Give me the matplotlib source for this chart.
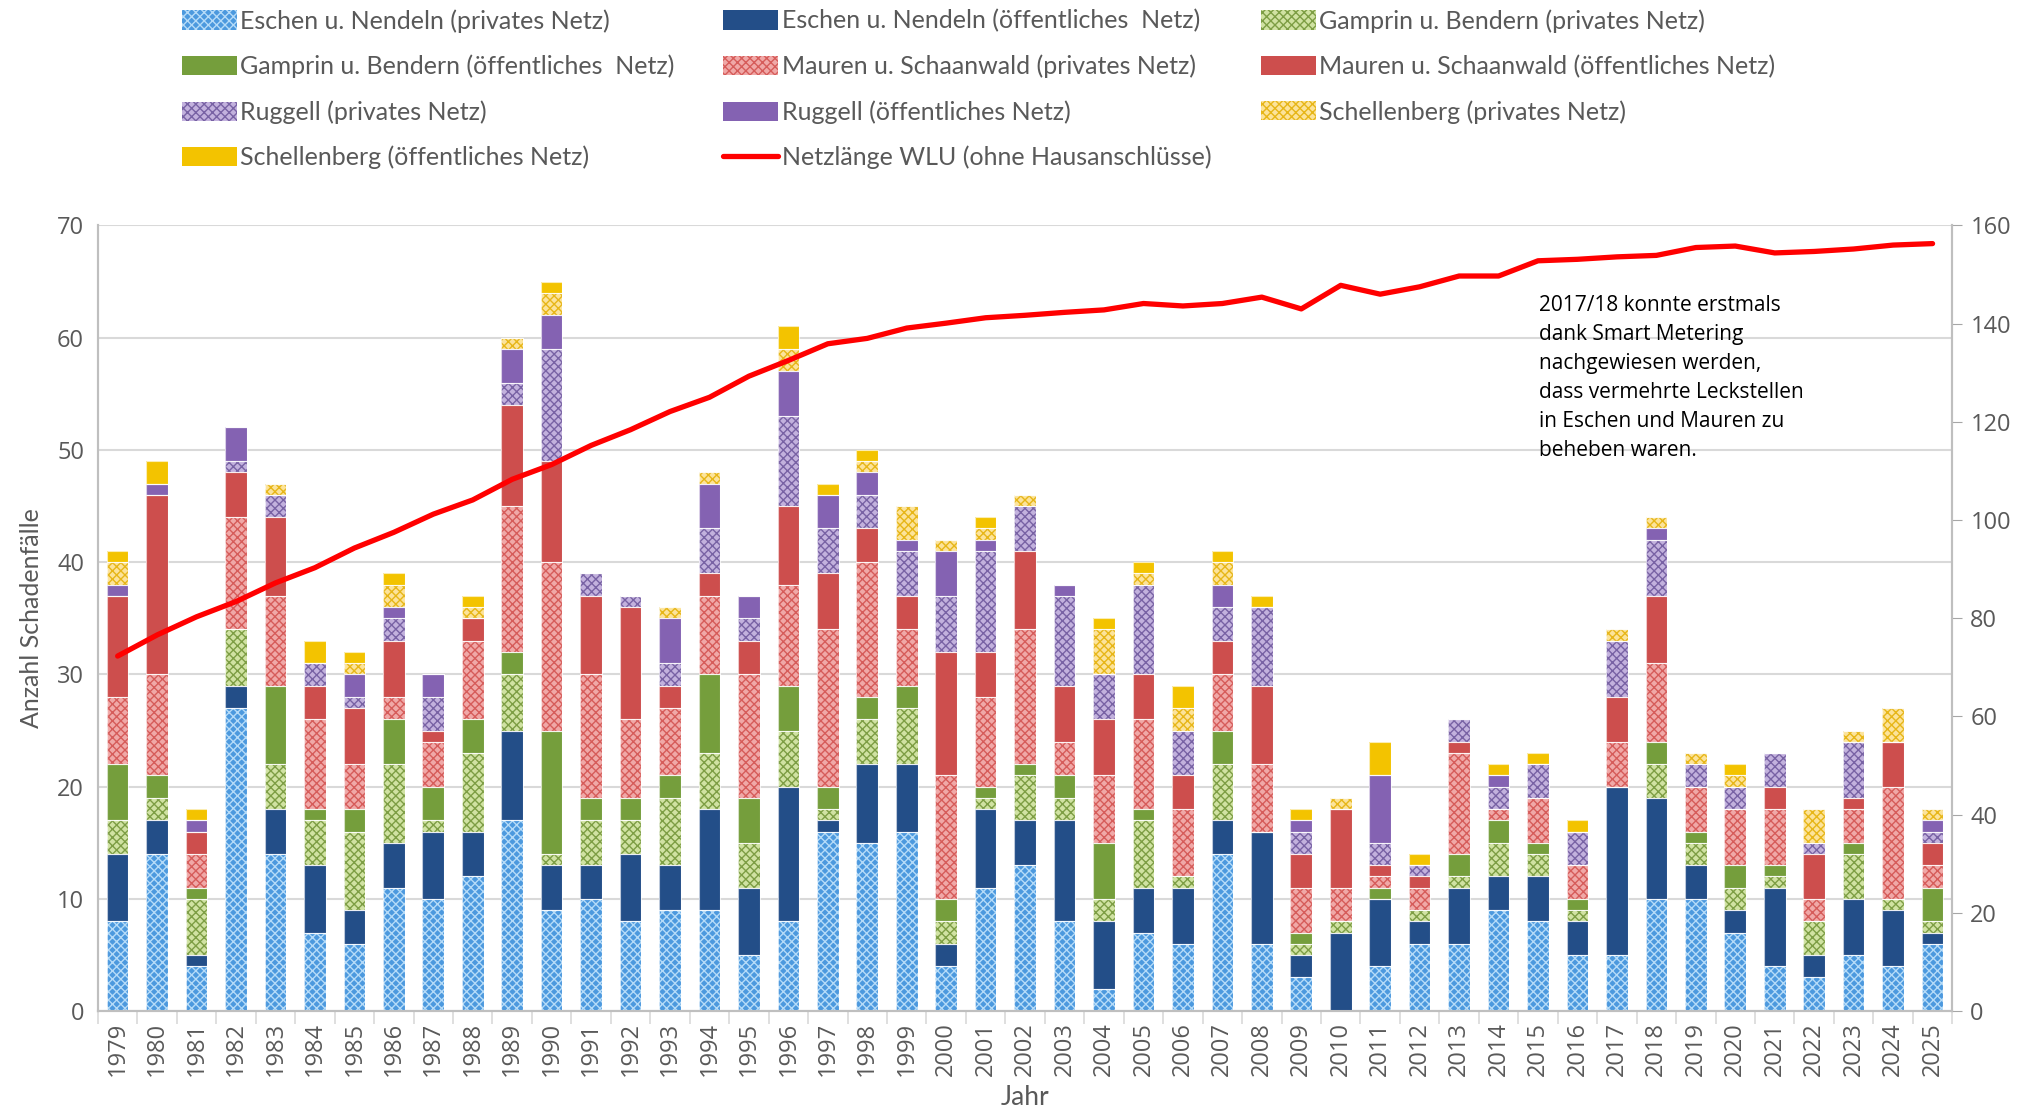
import matplotlib
matplotlib.use("Agg")
import matplotlib.pyplot as plt
import numpy as np

years = [str(y) for y in range(1979, 2026)]

eschen_priv = [8,14,4,27,14,7,6,11,10,12, 17,9,10,8,9,9,5,8,16,15, 16,4,11,13,8,2,7,6,14,6, 3,0,4,6,6,9,8,5,5,10, 10,7,4,3,5,4,6]
eschen_oeff = [6,3,1,2,4,6,3,4,6,4, 8,4,3,6,4,9,6,12,1,7, 6,2,7,4,9,6,4,5,3,10, 2,7,6,2,5,3,4,3,15,9, 3,2,7,2,5,5,1]
gamprin_priv = [3,2,5,5,4,4,7,7,1,7, 5,1,4,3,6,5,4,5,1,4, 5,2,1,4,2,2,6,1,5,0, 1,1,0,1,1,3,2,1,0,3, 2,2,1,3,4,1,1]
gamprin_oeff = [5,2,1,0,7,1,2,4,3,3, 2,11,2,2,2,7,4,4,2,2, 2,2,1,1,2,5,1,0,3,0, 1,0,1,0,2,2,1,1,0,2, 1,2,1,0,1,0,3]
mauren_priv = [6,9,3,10,8,8,4,2,4,7, 13,15,11,7,6,7,11,9,14,12, 5,11,8,12,3,6,8,6,5,6, 4,3,1,2,9,1,4,3,4,7, 4,5,5,2,3,10,2]
mauren_oeff = [9,16,2,4,7,3,5,5,1,2, 9,9,7,10,2,2,3,7,5,3, 3,11,4,7,5,5,4,3,3,7, 3,7,1,1,1,0,0,0,4,6, 0,0,2,4,1,4,2]
ruggell_priv = [0,0,0,1,2,2,1,2,3,0, 2,10,2,1,2,4,2,8,4,3, 4,5,9,4,8,4,8,4,3,7, 2,0,2,1,2,2,3,3,5,5, 2,2,3,1,5,0,1]
ruggell_oeff = [1,1,1,3,0,0,2,1,2,0, 3,3,0,0,4,4,2,4,3,2, 1,4,1,0,1,0,0,0,2,0, 1,0,6,0,0,1,0,0,0,1, 0,0,0,0,0,0,1]
schell_priv = [2,0,0,0,1,0,1,2,0,1, 1,2,0,0,1,1,0,2,0,1, 3,1,1,1,0,4,1,2,2,0, 0,1,0,0,0,0,0,0,1,1, 1,1,0,3,1,3,1]
schell_oeff = [1,2,1,0,0,2,1,1,0,1, 0,1,0,0,0,0,0,2,1,1, 0,0,1,0,0,1,1,2,1,1, 1,0,3,1,0,1,1,1,0,0, 0,1,0,0,0,0,0]
netzlaenge = [72.3,76.6,80.3,83.4,87.2,90.3,94.3,97.5,101.2,104.1,
              108.3,111.3,115.2,118.4,122.1,125.0,129.3,132.5,135.9,137.0,
              139.1,140.1,141.2,141.7,142.3,142.8,144.1,143.6,144.1,145.4,
              143.0,147.8,146.0,147.5,149.7,149.7,152.8,153.1,153.6,153.9,
              155.5,155.8,154.4,154.7,155.2,156.0,156.3]

labels = [
    "Eschen u. Nendeln (privates Netz)", "Eschen u. Nendeln (öffentliches  Netz)",
    "Gamprin u. Bendern (privates Netz)", "Gamprin u. Bendern (öffentliches  Netz)",
    "Mauren u. Schaanwald (privates Netz)", "Mauren u. Schaanwald (öffentliches Netz)",
    "Ruggell (privates Netz)", "Ruggell (öffentliches Netz)",
    "Schellenberg (privates Netz)", "Schellenberg (öffentliches Netz)",
]
line_label = "Netzlänge WLU (ohne Hausanschlüsse)"
annotation = ("2017/18 konnte erstmals\ndank Smart Metering\nnachgewiesen werden,\n"
              "dass vermehrte Leckstellen\nin Eschen und Mauren zu\nbeheben waren.")

series = [eschen_priv, eschen_oeff, gamprin_priv, gamprin_oeff, mauren_priv,
          mauren_oeff, ruggell_priv, ruggell_oeff, schell_priv, schell_oeff]
face = ["#4C99DE", "#234E88", "#D0E2A2", "#759E3C", "#F0A8A7",
        "#CD4E4D", "#C2B1DD", "#8462B2", "#FCE39A", "#F3C300"]
hatchc = ["#B5DBF8", None, "#7D9E44", None, "#D65C5A",
          None, "#7862A4", None, "#E7B618", None]

narrow = ["Liberation Sans Narrow", "Lato", "DejaVu Sans"]
plt.rcParams["font.family"] = ["Open Sans", "DejaVu Sans"]
plt.rcParams["hatch.linewidth"] = 1.0

fig = plt.figure(figsize=(20.4, 11.16), dpi=100)
ax = fig.add_axes([0.048, 0.094, 0.909, 0.704])
ax2 = ax.twinx()

x = np.arange(len(years))
bottom = np.zeros(len(years))
handles = []
for vals, lab, fc, hc in zip(series, labels, face, hatchc):
    v = np.array(vals, dtype=float)
    if hc is not None:
        b = ax.bar(x, v, 0.55, bottom=bottom, color=fc, edgecolor=hc,
                   hatch="xxxx", linewidth=0, label=lab, zorder=3)
    else:
        b = ax.bar(x, v, 0.55, bottom=bottom, color=fc, edgecolor=fc,
                   linewidth=0, label=lab, zorder=3)
    ax.bar(x, v, 0.55, bottom=bottom, fill=False, edgecolor="#FFFFFF",
           linewidth=0.8, alpha=0.7, zorder=4)
    handles.append(b)
    bottom += v

ln, = ax2.plot(x, netzlaenge, color="#FF0000", linewidth=3.8, label=line_label,
               zorder=5, solid_capstyle="round")
handles.append(ln)

ax.set_xlim(-0.5, len(years) - 0.5)
ax.set_ylim(0, 70)
ax.set_yticks(np.arange(0, 71, 10))
ax2.set_ylim(0, 160)
ax2.set_yticks(np.arange(0, 161, 20))
ax.grid(axis="y", color="#D9D9D9", linewidth=1.5, zorder=0)
ax.set_axisbelow(True)

ax.set_xticks(x)
ax.set_xticklabels(years, rotation=90, fontsize=17, color="#595959")
ax.tick_params(axis="x", which="major", length=0, pad=8)
ax.set_xticks(np.arange(-0.5, len(years), 1.0), minor=True)
ax.tick_params(axis="x", which="minor", length=9, color="#D9D9D9", width=1.2)
ax.tick_params(axis="y", length=0, labelsize=17, labelcolor="#595959", pad=10)
ax2.tick_params(axis="y", length=7, color="#A6A6A6", labelsize=17,
                labelcolor="#595959", pad=6)

for a in (ax, ax2):
    a.spines["top"].set_visible(False)
    for s in ("left", "right", "bottom"):
        a.spines[s].set_color("#BFBFBF")
        a.spines[s].set_linewidth(1.5)

ax.set_ylabel("Anzahl Schadenfälle", fontsize=18, color="#595959",
              family=narrow, labelpad=10)
ax.set_xlabel("Jahr", fontsize=19, color="#595959", family=narrow, labelpad=6)

ax2.text(0.777, 0.912, annotation, transform=ax.transAxes, fontsize=15,
         va="top", ha="left", color="#000000", linespacing=1.5, zorder=6)

order = [0, 3, 6, 9, 1, 4, 7, 10, 2, 5, 8]
leg = fig.legend([handles[i] for i in order],
                 [(labels + [line_label])[i] for i in order],
                 ncol=3, loc="upper left", bbox_to_anchor=(0.078, 1.012),
                 frameon=False, prop={"family": narrow, "size": 18},
                 handlelength=2.2, handleheight=0.8, handletextpad=0.15,
                 columnspacing=1.95, labelspacing=0.88, labelcolor="#595959")

fig.savefig("out.png", dpi=100)
